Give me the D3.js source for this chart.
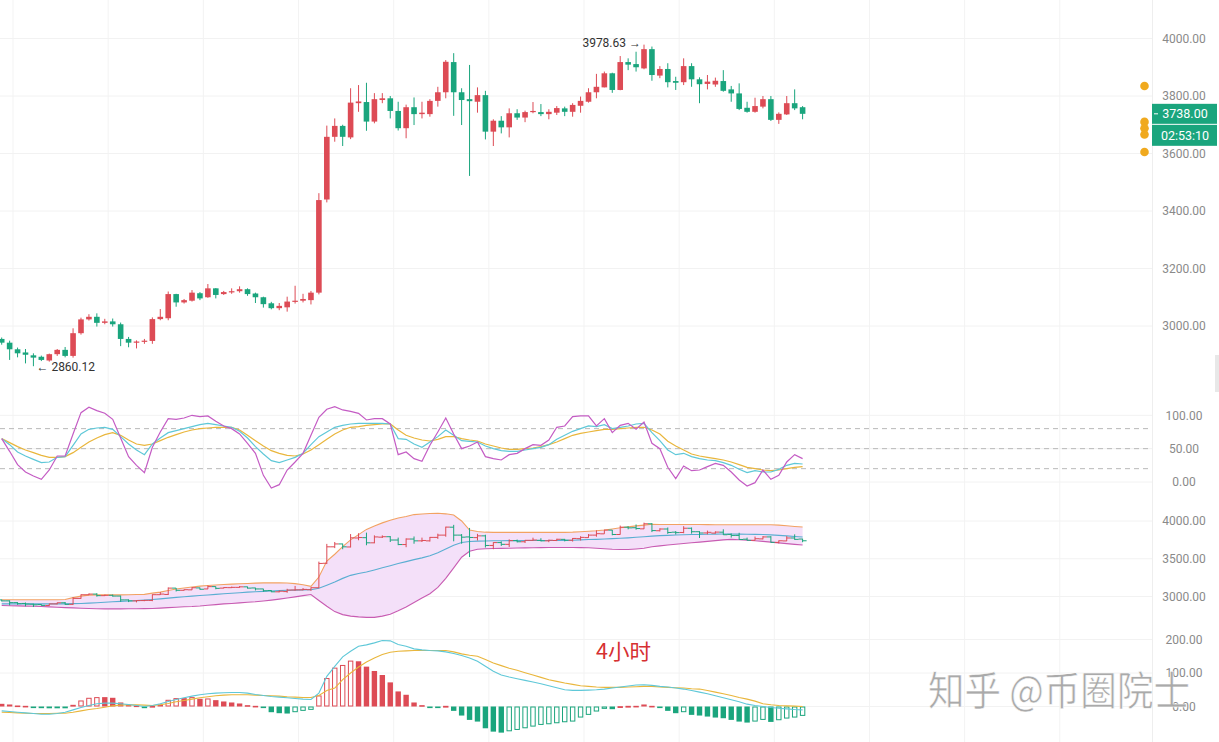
<!DOCTYPE html>
<html><head><meta charset="utf-8">
<script src="https://cdn.jsdelivr.net/npm/d3@7"></script>
<style>body{margin:0;background:#fff}svg{display:block;font-family:Roboto,"Noto Sans",sans-serif}</style>
</head><body><svg id="c" width="1219" height="742"></svg>
<script>
// ---------- data ----------
const openP=[2955,2942,2919,2908,2898,2893,2880,2902,2917,2896,
 2975,3023,3032,3011,3016,3006,2955,2942,2946,2948,
 3024,3027,3111,3082,3088,3114,3100,3131,3111,3117,
 3121,3128,3113,3100,3079,3062,3065,3086,3088,3090,
 3116,3440,3658,3696,3656,3775,3779,3711,3786,3792,
 3748,3688,3761,3737,3737,3783,3813,3918,3813,3789,
 3780,3803,3676,3714,3691,3740,3725,3744,3744,3737,
 3742,3757,3745,3766,3780,3813,3830,3879,3821,3918,
 3911,3896,3963,3871,3894,3852,3848,3904,3858,3842,
 3840,3852,3823,3809,3759,3745,3763,3789,3717,3736,
 3775,3761];
const highP=[2960,2949,2925,2920,2905,2897,2904,2920,2927,2992,
 3029,3041,3044,3025,3026,3012,2962,2950,2955,3030,
 3059,3120,3112,3094,3125,3118,3146,3132,3122,3131,
 3138,3131,3116,3102,3084,3080,3102,3140,3112,3122,
 3462,3697,3722,3700,3827,3838,3846,3810,3810,3800,
 3780,3770,3795,3780,3789,3832,3925,3949,3827,3908,
 3830,3818,3719,3730,3757,3754,3749,3779,3772,3754,
 3765,3763,3775,3798,3827,3877,3885,3881,3939,3931,
 3954,3978.63,3972,3904,3914,3867,3931,3914,3865,3873,
 3864,3890,3835,3844,3780,3794,3800,3800,3743,3800,
 3823,3765];
const lowP=[2935,2882,2891,2870,2860.12,2878,2876,2896,2891,2890,
 2970,3019,2998,3006,2998,2930,2926,2922,2938,2938,
 3020,3020,3067,3078,3085,3090,3098,3096,3108,3112,
 3116,3105,3080,3064,3058,3055,3050,3078,3082,3075,
 3110,3430,3641,3626,3650,3745,3679,3705,3775,3722,
 3680,3653,3699,3722,3728,3763,3792,3731,3699,3522,
 3742,3649,3626,3670,3656,3717,3709,3740,3730,3719,
 3734,3730,3728,3742,3777,3792,3830,3811,3820,3890,
 3885,3893,3853,3862,3830,3821,3838,3832,3775,3823,
 3832,3815,3780,3751,3742,3742,3757,3713,3703,3734,
 3751,3719];
const closeP=[2942,2919,2905,2900,2890,2882,2902,2917,2896,2975,
 3023,3032,3011,3016,3006,2955,2942,2946,2949,3024,
 3032,3111,3082,3090,3116,3096,3131,3108,3118,3121,
 3128,3111,3100,3076,3062,3070,3085,3088,3094,3116,
 3438,3658,3696,3658,3777,3781,3711,3789,3792,3748,
 3688,3761,3737,3742,3783,3813,3919,3813,3786,3782,
 3803,3676,3714,3691,3740,3725,3744,3748,3737,3745,
 3758,3745,3769,3783,3813,3832,3879,3821,3918,3909,
 3900,3963,3873,3894,3848,3846,3904,3858,3841,3850,
 3853,3818,3809,3755,3745,3765,3789,3717,3738,3775,
 3757,3738];

const kdjK=[65,56,45,39,34,29,30,37,38,55,
 72,79,81,82,79,68,57,48,41,57,
 66,74,77,80,83,86,88,86,84,82,
 76,66,53,42,32,29,33,37,43,56,
 68,75,82,85,87,88,88,88,88,87,
 65,64,57,52,60,68,78,70,62,61,
 60,54,50,47,46,46,48,50,52,56,
 64,70,76,80,84,83,86,80,82,84,
 87,88,74,62,48,41,43,38,35,33,
 32,29,25,19,14,17,15,15,19,25,
 28,27];
const kdjD=[65,59,53,48,44,40,37,37,38,44,
 52,60,66,71,74,70,63,57,55,57,
 62,67,71,75,78,80,81,82,82,82,
 78,70,62,54,47,43,40,39,42,48,
 56,64,72,78,82,83,85,86,87,87,
 78,70,66,63,61.5,64,68,68,65,63,
 61.5,57,54,51,49,49,50,51,53,56,
 60,65,70,73,75,77,79,79,80,81,
 82,82,78,72,61,54,48,42,39,37,
 35,33,30,26,22,20,18,17,18,20,
 22,23];
const kdjJ=[65,46,26,15,9,4,18,39,39,72,
 104,112,107,103,94,66,38,25,14,52,
 75,95,94,96,100,98,99,91,84,80,
 72,58,43,10,-9,-4,18,30,43,70,
 97,109,113,108,106,103,93,95,95,87,
 41,45,35,31,55,75,96,72,50,54,
 60,38,35,33,41,43,50,56,55,63,
 82,84,98,99,99,84,95,74,85,88,
 79,90,58,50,22,5,24,17,18,23,
 28,25,15,3,-6,-1,18,4,10,30,
 41,35];

const bollUp=[2956,2956,2956,2956,2956,2956,2956,2956,2960,2985,
 3005,3018,3022,3022,3022,3022,3024,3026,3028,3045,
 3058,3080,3100,3112,3125,3138,3145,3152,3158,3164,
 3169,3173,3177,3180,3182,3180,3178,3170,3155,3135,
 3258,3470,3560,3660,3750,3820,3889,3935,3975,4010,
 4040,4060,4085,4092,4100,4102,4095,4080,4000,3880,
 3860,3852,3849,3849,3849,3849,3849,3849,3849,3849,
 3849,3849,3852,3858,3864,3870,3880,3895,3910,3922,
 3935,3945,3956,3954,3953,3953,3953,3953,3953,3952,
 3950,3950,3950,3950,3950,3950,3950,3950,3945,3938,
 3928,3920];
const bollMid=[2902,2902,2902,2902,2902,2902,2902,2902,2902,2905,
 2908,2912,2918,2924,2930,2935,2940,2945,2952,2960,
 2968,2978,2988,2997,3005,3013,3020,3028,3036,3044,
 3050,3058,3063,3068,3073,3078,3082,3085,3088,3090,
 3110,3150,3192,3240,3280,3305,3325,3352,3380,3408,
 3436,3462,3488,3512,3540,3580,3630,3680,3715,3728,
 3733,3736,3738,3739,3740,3740,3741,3741,3742,3742,
 3742,3743,3746,3750,3754,3757,3762,3767,3772,3777,
 3784,3792,3800,3806,3810,3814,3818,3821,3822,3824,
 3826,3827,3827,3826,3825,3823,3822,3816,3810,3803,
 3795,3788];
const bollLow=[2880,2878,2876,2873,2870,2867,2862,2858,2853,2849,
 2845,2841,2838,2836,2836,2836,2837,2838,2840,2842,
 2846,2852,2858,2864,2868,2875,2885,2893,2902,2908,
 2915,2924,2930,2940,2952,2965,2980,2995,3012,3027,
 2947,2870,2800,2760,2740,2730,2724,2724,2740,2765,
 2810,2860,2920,2980,3036,3120,3240,3380,3520,3600,
 3625,3632,3636,3638,3640,3642,3644,3646,3648,3649,
 3649,3649,3649,3648,3645,3640,3632,3625,3622,3622,
 3630,3640,3658,3670,3682,3692,3702,3711,3720,3730,
 3740,3750,3756,3752,3745,3738,3730,3720,3710,3700,
 3690,3682];

const macdDif=[-13,-15,-17,-19,-21,-23,-23,-21,-17,-10,
 -3,3,8,10,10,8,6,3,0,3,
 8,15,21,26,31,35,38,40,41,42,
 42,40,36,33,30,28,26,24,22,21,
 40,90,120,148,165,180,184,190,197,196,
 185,180,172,169,167,166,163,158,152,145,
 135,120,105,94,88,83,78,73,68,62,
 56,50,48,48,49,50,52,55,58,61,
 64,65,63,60,58,55,52,48,43,38,
 32,26,20,14,7,3,0,-3,-5,-7,
 -9,-10];
const macdDea=[-17,-18,-19,-20,-21,-21,-21,-20,-20,-17,
 -13,-9,-6,-2,2,4,5,5,4,3,
 5,9,14,18,22,26,29,32,34,35,
 35,35,34,33,32,31,29,28,27,27,
 33,48,55,80,100,118,133,145,155,162,
 165,166,167,167,167,167,167,163,157,153,
 150,140,130,122,114,108,101,94,87,80,
 75,70,66,62,60,58,57,57,57,58,
 59,60,60,58,57,56,55,53,52,48,
 43,38,33,27,22,16,8,5,3,2,
 1,0];
const macdHist=[8,6,3,2,-2,-5,-4,-3,-1,5,
 18,26,28,28,26,12,5,3,-5,2,
 6,20,25,25,28,23,24,19,15,12,
 9,4,2,-4,-17,-20,-21,-17,-13,-10,
 33,85,116,124,137,135,119,106,94,72,
 45,35,12,4,-3,-3,2,-13,-27,-40,
 -45,-65,-75,-78,-74,-70,-65,-60,-55,-53,
 -50,-47,-45,-33,-25,-15,-7,-8,1,2,
 2,6,2,-3,-13,-20,-17,-25,-27,-30,
 -33,-35,-40,-45,-48,-45,-40,-46,-41,-36,
 -33,-28];

const priceTicks=[3000,3200,3400,3600,3800,4000];
const kdjTicks=[0,50,100];
const kdjLevels=[20,50,80];
const bollTicks=[3000,3500,4000];
const macdTicks=[0,100,200];
const markerPrices=[3835,3710,3688,3666,3605];
const lastPrice=3738, countdownText="02:53:10";
const highIdx=81, highVal=3978.63, lowIdx=4, lowVal=2860.12;
const gridIdx=[1.43,13.43,25.43,37.43,49.43,61.43,73.43,85.43,97.43,109.43,121.43,133.43,145.43];

// ---------- drawing ----------
const RED="#dd4b55", GREEN="#1aa57d";
const svg=d3.select("#c");
const n=closeP.length;
const x=d3.scaleLinear().domain([0,101]).range([1.7,802.6]);
const yP=d3.scaleLinear().domain([3000,4000]).range([326,38.5]);
const yK=d3.scaleLinear().domain([0,100]).range([482,415.3]);
const yB=d3.scaleLinear().domain([3000,4000]).range([596.5,521]);
const yM=d3.scaleLinear().domain([0,200]).range([706.5,639.5]);
const AX=1152, W=1219;
const col=i=>closeP[i]>=openP[i]?RED:GREEN;
const idx=d3.range(n);

// vertical grid
svg.append("g").selectAll("line").data(gridIdx.filter(g=>x(g)<AX)).join("line")
 .attr("x1",d=>x(d)).attr("x2",d=>x(d)).attr("y1",0).attr("y2",742)
 .attr("stroke","#f3f3f3");
// horizontal grids
function hgrid(ticks,sc){svg.append("g").selectAll("line").data(ticks).join("line")
 .attr("x1",0).attr("x2",AX).attr("y1",d=>sc(d)).attr("y2",d=>sc(d)).attr("stroke","#f2f2f2");}
hgrid(priceTicks,yP);hgrid(kdjTicks,yK);hgrid(bollTicks,yB);hgrid(macdTicks,yM);
// axis separator
svg.append("line").attr("x1",AX+0.5).attr("x2",AX+0.5).attr("y1",0).attr("y2",742).attr("stroke","#eeeeee");

// axis labels
function labels(ticks,sc){svg.append("g").selectAll("text").data(ticks).join("text")
 .attr("x",1184).attr("y",d=>sc(d)).attr("dy","0.35em").attr("text-anchor","middle")
 .attr("font-size",12).attr("fill","#8a8a8a").text(d=>d3.format(".2f")(d));}
labels(priceTicks,yP);labels(kdjTicks,yK);labels(bollTicks,yB);labels(macdTicks,yM);

// ---- candles ----
const cg=svg.append("g");
cg.selectAll("line").data(idx).join("line")
 .attr("x1",i=>x(i)).attr("x2",i=>x(i)).attr("y1",i=>yP(highP[i])).attr("y2",i=>yP(lowP[i]))
 .attr("stroke",col).attr("stroke-width",1);
cg.selectAll("rect").data(idx).join("rect")
 .attr("x",i=>x(i)-2.8).attr("width",5.6)
 .attr("y",i=>yP(Math.max(openP[i],closeP[i])))
 .attr("height",i=>Math.max(1.2,Math.abs(yP(openP[i])-yP(closeP[i]))))
 .attr("fill",col);

// annotations
svg.append("text").attr("x",x(highIdx)-3).attr("y",yP(highVal)+2).attr("text-anchor","end")
 .attr("font-size",12).attr("fill","#333").text(d3.format(".2f")(highVal)+" \u2192");
svg.append("text").attr("x",x(lowIdx)+3).attr("y",yP(lowVal)+5).attr("text-anchor","start")
 .attr("font-size",12).attr("fill","#333").text("\u2190 "+d3.format(".2f")(lowVal));

// markers
svg.append("g").selectAll("circle").data(markerPrices).join("circle")
 .attr("cx",1144.5).attr("cy",d=>yP(d)).attr("r",4.3).attr("fill","#f0a91e");

// price label
const ly=yP(lastPrice);
svg.append("rect").attr("x",AX).attr("y",ly-10).attr("width",65).attr("height",20).attr("fill",GREEN);
svg.append("rect").attr("x",AX).attr("y",ly+11).attr("width",65).attr("height",21).attr("fill",GREEN);
svg.append("line").attr("x1",AX+2).attr("x2",AX+6).attr("y1",ly).attr("y2",ly).attr("stroke","#fff");
svg.append("text").attr("x",1185).attr("y",ly).attr("dy","0.36em").attr("text-anchor","middle")
 .attr("font-size",12.5).attr("fill","#fff").text(d3.format(".2f")(lastPrice));
svg.append("text").attr("x",1185).attr("y",ly+21.5).attr("dy","0.36em").attr("text-anchor","middle")
 .attr("font-size",12.5).attr("fill","#fff").text(countdownText);

// scrollbar hint
svg.append("rect").attr("x",1215).attr("y",355).attr("width",4).attr("height",37).attr("fill","#e8e8e8");

// ---- KDJ ----
svg.append("g").selectAll("line").data(kdjLevels).join("line")
 .attr("x1",0).attr("x2",AX).attr("y1",d=>yK(d)).attr("y2",d=>yK(d))
 .attr("stroke","#b9b9b9").attr("stroke-dasharray","5,4");
function line(arr,sc,color,w){svg.append("path").datum(idx)
 .attr("d",d3.line().x(i=>x(i)).y(i=>sc(arr[i])))
 .attr("fill","none").attr("stroke",color).attr("stroke-width",w||1.2);}
line(kdjD,yK,"#e9b63c");line(kdjK,yK,"#5fc8d8");line(kdjJ,yK,"#c45cc4");

// ---- BOLL ----
svg.append("path").datum(idx)
 .attr("d",d3.area().x(i=>x(i)).y0(i=>yB(bollLow[i])).y1(i=>yB(bollUp[i])))
 .attr("fill","#f4e0f9");
line(bollUp,yB,"#f2a262",1.1);line(bollLow,yB,"#c85cb2",1.1);line(bollMid,yB,"#5aaed2",1.1);
const og=svg.append("g");
idx.forEach(i=>{
 const c=col(i);
 og.append("line").attr("x1",x(i)).attr("x2",x(i)).attr("y1",yB(highP[i])).attr("y2",yB(lowP[i])).attr("stroke",c);
 og.append("line").attr("x1",x(i)-4).attr("x2",x(i)).attr("y1",yB(openP[i])).attr("y2",yB(openP[i])).attr("stroke",c);
 og.append("line").attr("x1",x(i)).attr("x2",x(i)+4).attr("y1",yB(closeP[i])).attr("y2",yB(closeP[i])).attr("stroke",c);
});

// ---- MACD ----
const hg=svg.append("g");
idx.forEach(i=>{
 const v=macdHist[i], hollow=i>0&&v>macdHist[i-1];
 const c=v>=0?RED:GREEN;
 const y0=yM(0), y1=yM(v);
 const top=Math.min(y0,y1), h=Math.max(1.6,Math.abs(y1-y0));
 if(hollow){
  hg.append("rect").attr("x",x(i)-2.2).attr("width",4.4).attr("y",top+0.5).attr("height",Math.max(0.8,h-1))
   .attr("fill","#fff").attr("stroke",c).attr("stroke-width",1);
 } else {
  hg.append("rect").attr("x",x(i)-2.7).attr("width",5.4).attr("y",top).attr("height",h).attr("fill",c);
 }
});
line(macdDea,yM,"#e9b63c",1.1);line(macdDif,yM,"#5fc8d8",1.1);

// title text
svg.append("text").attr("x",596).attr("y",659).attr("font-size",21).attr("fill","#d63031")
 .attr("font-family","'Noto Sans CJK SC',sans-serif").attr("textLength",55).attr("lengthAdjust","spacingAndGlyphs").text("4小时");

// watermark
svg.append("text").attr("x",928).attr("y",705).attr("font-size",40).attr("fill","#a6a6a6")
 .attr("stroke","#ffffff").attr("stroke-width",0.6).attr("opacity",0.95)
 .attr("font-family","'Noto Sans CJK SC',sans-serif").attr("textLength",262).attr("lengthAdjust","spacingAndGlyphs")
 .text("知乎 @币圈院士");
</script></body></html>
